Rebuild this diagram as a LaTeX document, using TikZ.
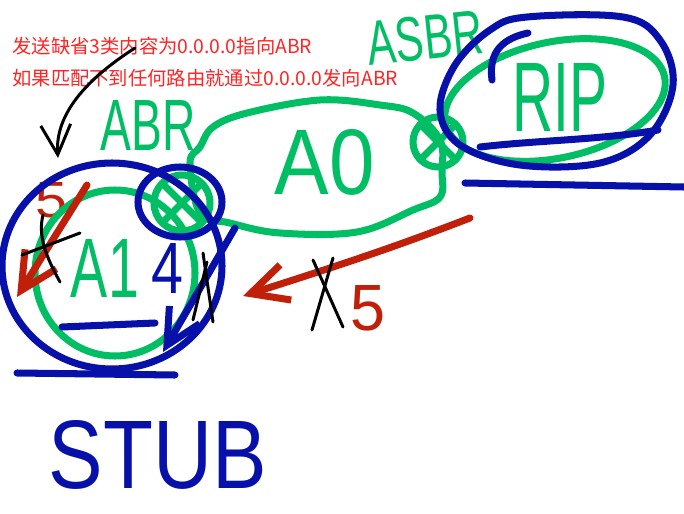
\documentclass[tikz,border=0pt]{standalone}
\usepackage{fontspec}
\setmainfont{Liberation Sans}
\newfontfamily\cjk{Noto Sans CJK SC}
\usetikzlibrary{arrows.meta}
\definecolor{inkgreen}{RGB}{0,190,100}
\definecolor{inkblue}{RGB}{8,16,170}
\definecolor{inkred}{RGB}{192,32,10}
\definecolor{notered}{RGB}{255,36,36}
\newlength\unitpx
\setlength\unitpx{0.02cm}
\newcommand{\handlabel}[3]{\resizebox{#1\unitpx}{#2\unitpx}{#3}}
\begin{document}
\begin{tikzpicture}[x=0.02cm, y=-0.02cm, line cap=round, line join=round,
  pen/.style={line width=4pt},
  fine pen/.style={line width=1.7pt, black},
  hand/.style={inner sep=0pt, font=\mdseries},
  note/.style={inner sep=0pt, anchor=west, text=notered, font=\cjk\fontsize{11}{13}\selectfont},
  barb/.style={-{Straight Barb[length=#1, width=#1]}}]
\useasboundingbox (0,0) rectangle (684,514);

% notes
\node[note] (note1) at (12,46) {发送缺省3类内容为0.0.0.0指向ABR};
\node[note] (note2) at (12,78) {如果匹配不到任何路由就通过0.0.0.0发向ABR};

% area labels
\node[hand, text=inkgreen] (abr) at (148,125) {\handlabel{95}{50}{ABR}};
\node[hand, text=inkgreen, rotate=6] (asbr) at (425,38) {\handlabel{116}{44}{ASBR}};
\node[hand, text=inkgreen] (a0) at (325,162) {\handlabel{100}{65}{A0}};
\node[hand, text=inkgreen] (rip) at (560,97) {\handlabel{95}{68}{RIP}};
\node[hand, text=inkgreen] (a1) at (105,268) {\handlabel{68}{58}{A1}};
\node[hand, text=inkblue] (four) at (168,268) {\handlabel{32}{50}{4}};
\node[hand, text=inkblue] (stub) at (158,455) {\handlabel{218}{68}{STUB}};
\node[hand, text=inkred] (five1) at (52,200) {\handlabel{32}{35}{5}};
\node[hand, text=inkred] (five2) at (368,308) {\handlabel{35}{45}{5}};

% green areas
\draw[pen, inkgreen] plot[smooth cycle, tension=0.6] coordinates {(213,127) (247,113) (320,100) (380,105) (413,113) (440,140) (442,172) (440,197) (413,210) (357,232) (280,233) (230,223) (200,213) (190,163) (200,147)};
\draw[pen, inkgreen] (115,273) ellipse [x radius=80, y radius=83];
\draw[pen, inkgreen, rotate around={12:(555,100)}] (555,100) ellipse [x radius=112, y radius=58];
\foreach \cx/\cy/\r in {182/203/28, 438/142/25} {
  \draw[pen, inkgreen] (\cx,\cy) circle [radius=\r];
  \draw[pen, inkgreen] (\cx-0.7*\r,\cy-0.7*\r) -- (\cx+0.7*\r,\cy+0.7*\r);
  \draw[pen, inkgreen] (\cx+0.7*\r,\cy-0.7*\r) -- (\cx-0.7*\r,\cy+0.7*\r);
}

% blue areas
\draw[pen, inkblue] (112,266) ellipse [x radius=110, y radius=103];
\draw[pen, inkblue] (180,202) ellipse [x radius=42, y radius=35];
\draw[pen, inkblue] plot[smooth cycle, tension=0.6] coordinates {(527,17) (623,17) (660,40) (673,85) (650,135) (600,163) (520,165) (460,145) (440,110) (455,65) (490,30)};
\draw[pen, inkblue] (492,80) .. controls (488,50) and (505,38) .. (528,33);
\draw[pen, inkblue] (62,327) -- (155,323);
\draw[pen, inkblue] (17,373) -- (175,375);
\draw[pen, inkblue] (480,147) .. controls (540,140) and (600,140) .. (658,130);
\draw[pen, inkblue] (465,183) -- (684,187);

% arrows
\coordinate (pointer) at (135,48);
\coordinate (pointertip) at (58,158);
\draw[fine pen, barb=17pt] (pointer) .. controls (85,80) and (55,115) .. (pointertip);
\coordinate (leftfrom) at (87,185);
\coordinate (leftto) at (17,297);
\draw[pen, inkred, barb=21pt] (leftfrom) -- (leftto);
\coordinate (rightfrom) at (470,218);
\coordinate (rightto) at (243,296);
\draw[pen, inkred, barb=21pt] (rightfrom) .. controls (400,245) and (350,262) .. (rightto);
\coordinate (bluefrom) at (235,228);
\coordinate (blueto) at (163,352);
\draw[pen, inkblue, barb=20pt] (bluefrom) -- (blueto);

% crossed out
\draw[fine pen] (22,255) -- (80,233);
\draw[fine pen] (43,215) .. controls (38,235) and (45,255) .. (60,282);
\draw[fine pen] (203,253) -- (213,322);
\draw[fine pen] (207,262) -- (193,320);
\draw[fine pen] (313,260) -- (343,327);
\draw[fine pen] (333,258) -- (312,330);
\end{tikzpicture}
\end{document}
